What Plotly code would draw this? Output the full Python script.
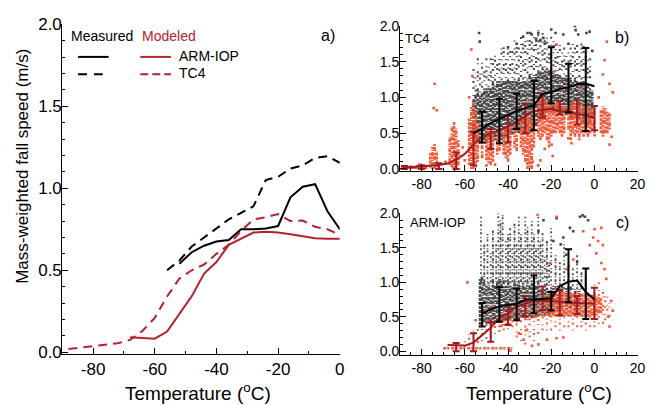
import plotly.graph_objects as go

# ---------------- Panel a: binned mean curves ----------------
T_TC4_MEAS = [-56, -52, -48, -44, -40, -36, -32, -28, -24, -20, -16, -12, -8, -4, 0]
V_TC4_MEAS = [0.50, 0.56, 0.645, 0.70, 0.755, 0.81, 0.85, 0.89, 1.05, 1.07, 1.12, 1.14, 1.185, 1.195, 1.155]
T_ARM_MEAS = [-52, -48, -44, -40, -36, -32, -28, -24, -20, -16, -12, -8, -4, 0]
V_ARM_MEAS = [0.54, 0.61, 0.65, 0.675, 0.685, 0.75, 0.75, 0.755, 0.77, 0.945, 1.01, 1.025, 0.86, 0.75]
T_ARM_MOD = [-68, -64, -60, -56, -52, -48, -44, -40, -36, -32, -28, -24, -20, -16, -12, -8, -4, 0]
V_ARM_MOD = [0.092, 0.088, 0.083, 0.126, 0.234, 0.342, 0.48, 0.55, 0.655, 0.695, 0.73, 0.735, 0.73, 0.72, 0.707, 0.695, 0.693, 0.693]
T_TC4_MOD = [-88, -84, -80, -76, -72, -68, -64, -60, -56, -52, -48, -44, -40, -36, -32, -28, -24, -20, -16, -12, -8, -4, 0]
V_TC4_MOD = [0.02, 0.028, 0.037, 0.045, 0.055, 0.075, 0.13, 0.21, 0.34, 0.45, 0.50, 0.535, 0.60, 0.655, 0.74, 0.81, 0.823, 0.843, 0.80, 0.803, 0.765, 0.75, 0.715]

# ---------------- Panel b (TC4) error bars ----------------
B_BLK_BAR_T = [-52, -44, -36, -28, -20, -12, -4]
B_BLK_BAR_LO = [0.37, 0.36, 0.56, 0.54, 0.92, 0.79, 0.53]
B_BLK_BAR_HI = [0.80, 0.98, 1.05, 1.23, 1.70, 1.47, 1.69]
B_RED_BAR_T = [-88, -80, -72, -64, -56, -48, -40, -32, -24, -16, -8, 0]
B_RED_BAR_LO = [0.0, 0.0, 0.0, 0.0, 0.05, 0.28, 0.37, 0.50, 0.72, 0.76, 0.62, 0.54]
B_RED_BAR_HI = [0.04, 0.05, 0.08, 0.23, 0.52, 0.56, 0.74, 0.91, 1.05, 0.95, 0.96, 0.88]

# ---------------- Panel c (ARM-IOP) error bars ----------------
C_BLK_BAR_T = [-52, -44, -36, -28, -20, -12, -4]
C_BLK_BAR_LO = [0.36, 0.43, 0.45, 0.55, 0.59, 0.71, 0.47]
C_BLK_BAR_HI = [0.70, 0.93, 0.91, 1.10, 0.86, 1.48, 1.20]
C_RED_BAR_T = [-64, -56, -48, -40, -32, -24, -16, -8, 0]
C_RED_BAR_LO = [0.0, 0.0, 0.14, 0.38, 0.50, 0.60, 0.52, 0.54, 0.47]
C_RED_BAR_HI = [0.12, 0.26, 0.42, 0.66, 0.80, 0.94, 0.89, 0.80, 0.92]

# ---------------- Scatter clouds, read as (T, low, high) streaks ----------------
B_GRAY_CORE = [(-56, 0.42, 0.95), (-55, 0.38, 1.05), (-54, 0.38, 1.1), (-53, 0.36, 1.0), (-52, 0.4, 1.05),
               (-51, 0.4, 1.1), (-50, 0.38, 1.1), (-49, 0.4, 1.15), (-48, 0.42, 1.1), (-47, 0.38, 1.2),
               (-46, 0.4, 1.15), (-45, 0.38, 1.2), (-44, 0.42, 1.2), (-43, 0.4, 1.25), (-42, 0.42, 1.2),
               (-41, 0.45, 1.2), (-40, 0.45, 1.25), (-39, 0.48, 1.2), (-38, 0.48, 1.2), (-37, 0.5, 1.25),
               (-36, 0.52, 1.2), (-35, 0.5, 1.25), (-34, 0.52, 1.2), (-33, 0.5, 1.25), (-32, 0.55, 1.2),
               (-31, 0.55, 1.25), (-30, 0.5, 1.3), (-29, 0.55, 1.25), (-28, 0.6, 1.3), (-27, 0.6, 1.3),
               (-26, 0.65, 1.35), (-25, 0.7, 1.35), (-24, 0.75, 1.4), (-23, 0.72, 1.35), (-22, 0.78, 1.4),
               (-21, 0.8, 1.35), (-20, 0.82, 1.4), (-19, 0.8, 1.35), (-18, 0.82, 1.3), (-17, 0.8, 1.3),
               (-16, 0.8, 1.3), (-15, 0.82, 1.25), (-14, 0.78, 1.25), (-13, 0.75, 1.3), (-12, 0.78, 1.25),
               (-11, 0.7, 1.25), (-10, 0.72, 1.2), (-9, 0.7, 1.25), (-8, 0.68, 1.2), (-7, 0.7, 1.2),
               (-6, 0.62, 1.25), (-5, 0.65, 1.2), (-4, 0.6, 1.2), (-3, 0.62, 1.15), (-2, 0.65, 1.1), (-1, 0.7, 1.1)]
B_GRAY_SPARSE = [(-56, 0.95, 1.45), (-55, 1.0, 1.35), (-54, 1.1, 1.55), (-53, 1.0, 1.4), (-52, 1.05, 1.5),
                 (-51, 1.1, 1.45), (-50, 1.1, 1.6), (-49, 1.15, 1.5), (-48, 1.1, 1.55), (-47, 1.2, 1.6),
                 (-46, 1.15, 1.65), (-45, 1.2, 1.55), (-44, 1.2, 1.6), (-43, 1.25, 1.7), (-42, 1.2, 1.7),
                 (-41, 1.2, 1.6), (-40, 1.25, 1.75), (-39, 1.2, 1.65), (-38, 1.2, 1.7), (-37, 1.25, 1.8),
                 (-36, 1.2, 1.8), (-35, 1.25, 1.75), (-34, 1.2, 1.85), (-33, 1.25, 1.8), (-32, 1.2, 1.8),
                 (-31, 1.25, 1.85), (-30, 1.3, 1.9), (-29, 1.25, 1.8), (-28, 1.3, 1.85), (-27, 1.3, 1.9),
                 (-26, 1.35, 1.95), (-25, 1.35, 1.85), (-24, 1.4, 1.9), (-23, 1.35, 1.8), (-22, 1.4, 1.85),
                 (-21, 1.35, 1.75), (-20, 1.4, 1.9), (-19, 1.35, 1.8), (-18, 1.3, 1.75), (-17, 1.3, 1.7),
                 (-16, 1.3, 1.8), (-15, 1.25, 1.65), (-14, 1.25, 1.7), (-13, 1.3, 1.6), (-12, 1.25, 1.65),
                 (-11, 1.25, 1.7), (-10, 1.2, 1.8), (-9, 1.25, 1.7), (-8, 1.2, 1.75), (-7, 1.2, 1.6),
                 (-6, 1.25, 1.85), (-5, 1.2, 1.65), (-4, 1.2, 1.7), (-3, 1.15, 1.55), (-2, 1.1, 1.6)]
B_RED_CORE = [(-89, 0.0, 0.03), (-88, 0.0, 0.04), (-87, 0.0, 0.05), (-86, 0.0, 0.04), (-85, 0.0, 0.05),
              (-84, 0.0, 0.04), (-83, 0.0, 0.03), (-82, 0.0, 0.06), (-81, 0.0, 0.08), (-80, 0.0, 0.07),
              (-79, 0.0, 0.05), (-78, 0.0, 0.04),
              (-76, 0.02, 0.22), (-75, 0.0, 0.32), (-74, 0.0, 0.35), (-73, 0.02, 0.25),
              (-67, 0.05, 0.45), (-66, 0.02, 0.6), (-65, 0.0, 0.66), (-64, 0.02, 0.58), (-63, 0.05, 0.42),
              (-58, 0.05, 0.7), (-57, 0.0, 0.88), (-56, 0.0, 0.95), (-55, 0.02, 0.82), (-54, 0.1, 0.65),
              (-52, 0.15, 0.45), (-50, 0.12, 0.5), (-49, 0.08, 0.55), (-48, 0.05, 0.5), (-47, 0.1, 0.5),
              (-45, 0.2, 0.5), (-44, 0.25, 0.55), (-42, 0.2, 0.55), (-41, 0.15, 0.6), (-40, 0.1, 0.6),
              (-39, 0.2, 0.6), (-37, 0.3, 0.65), (-36, 0.25, 0.65), (-34, 0.3, 0.7), (-33, 0.2, 0.7),
              (-32, 0.1, 0.72), (-31, 0.0, 0.75), (-30, 0.02, 0.7), (-29, 0.0, 0.75), (-28, 0.3, 0.85),
              (-26, 0.45, 0.95), (-25, 0.4, 1.0), (-24, 0.45, 1.02), (-23, 0.5, 0.98), (-22, 0.4, 0.95),
              (-21, 0.3, 0.9), (-20, 0.45, 0.95), (-19, 0.5, 0.95), (-18, 0.5, 0.92), (-17, 0.55, 0.95),
              (-16, 0.5, 0.95), (-15, 0.45, 0.9), (-14, 0.5, 0.88),
              (-12, 0.55, 0.88), (-11, 0.4, 0.92), (-10, 0.5, 0.95), (-9, 0.45, 0.92), (-8, 0.5, 0.95),
              (-7, 0.4, 0.88), (-6, 0.5, 0.92), (-5, 0.45, 0.88), (-4, 0.5, 0.9), (-3, 0.45, 0.88),
              (-2, 0.5, 0.85), (-1, 0.55, 0.85), (0, 0.5, 0.88),
              (3, 0.5, 0.82), (4, 0.45, 0.88), (5, 0.5, 0.85), (6, 0.5, 0.8), (7, 0.55, 0.78)]
B_RED_OUT = [(-74, 1.19), (-73, 0.82), (-74.4, 0.85), (-57, 1.67), (-56.5, 1.3), (-58, 1.0), (5.8, 1.78),
             (4.7, 1.52), (3.9, 1.32), (7, 1.19), (8.5, 1.07), (-18.2, 1.37), (-17.5, 1.74), (-29.7, 0.32),
             (-29, 0.14), (-28.6, 0.1), (-19.3, 0.18), (-19.8, 0.34), (-12.1, 0.43), (-10.6, 0.36),
             (0.1, 0.47), (7, 0.34), (-60, 0.12), (-61, 0.3), (-69, 0.1), (-50, 0.05), (-46, 0.06),
             (-26, 0.05), (-25, 0.12), (-23, 0.28), (-15, 1.1), (-6, 1.12), (2, 1.0), (8, 0.45)]
B_GRAY_OUT = [(-53.4, 1.9), (-53.1, 1.78), (-33, 1.85), (-31, 1.9), (-29, 1.88), (-27, 1.82), (-26, 1.9),
              (-25, 1.8), (-23, 1.75), (-9, 2.0), (-8.7, 1.94), (-2.2, 1.92), (-3.7, 1.9), (-7.5, 1.88),
              (-14.4, 1.88), (-23.6, 1.83), (-29.7, 1.9), (-20, 1.95), (-18, 1.9), (-12, 1.75), (-5, 1.7),
              (-1, 1.65), (-36, 1.75), (-40, 1.7)]

C_GRAY_CORE = [(-53, 0.38, 1.05), (-52, 0.4, 1.1), (-51, 0.42, 1.0), (-50, 0.4, 0.95), (-49, 0.4, 1.0),
               (-48, 0.42, 0.95), (-47, 0.4, 1.05), (-46, 0.42, 0.95), (-45, 0.42, 1.0), (-44, 0.45, 1.05),
               (-43, 0.44, 1.0), (-42, 0.45, 1.05), (-41, 0.45, 0.95), (-40, 0.48, 1.0), (-39, 0.46, 1.0),
               (-38, 0.48, 0.95), (-37, 0.46, 1.0), (-36, 0.48, 1.0), (-35, 0.46, 1.0), (-34, 0.5, 0.95),
               (-33, 0.5, 1.0), (-32, 0.48, 0.95), (-31, 0.5, 1.0), (-30, 0.5, 0.95), (-29, 0.48, 1.0),
               (-28, 0.5, 1.0), (-27, 0.5, 0.95), (-26, 0.5, 1.0), (-25, 0.52, 0.9), (-24, 0.55, 0.95),
               (-23, 0.52, 0.9), (-22, 0.55, 0.92), (-21, 0.52, 0.88), (-20, 0.55, 0.9),
               (-19, 0.6, 0.95), (-17, 0.6, 0.95), (-15, 0.62, 0.95), (-13, 0.6, 0.92), (-11, 0.62, 0.95),
               (-9, 0.6, 0.9), (-7, 0.6, 0.9)]
C_GRAY_TALL = [(-52.5, 1.0, 1.95), (-51, 1.0, 1.55), (-49.5, 1.0, 1.7), (-48, 1.0, 1.45), (-47, 1.0, 1.75),
               (-45.5, 1.0, 1.6), (-44.5, 1.0, 2.0), (-43.5, 1.0, 1.9), (-42.5, 1.0, 1.98), (-41, 1.0, 1.6),
               (-40, 1.0, 1.7), (-39, 1.0, 1.8), (-38, 1.0, 1.5), (-37, 1.0, 1.85), (-36, 1.0, 1.6),
               (-35, 1.0, 1.95), (-34, 1.0, 1.7), (-33, 1.0, 1.5), (-32, 1.0, 1.95), (-31, 1.0, 1.8),
               (-30, 1.0, 1.6), (-29, 1.0, 1.9), (-28, 1.0, 1.7), (-27, 1.0, 1.5), (-26, 1.0, 1.95),
               (-25, 1.0, 1.6), (-24, 1.0, 1.75), (-23, 0.95, 1.4), (-22, 0.95, 1.6), (-21, 0.95, 1.3),
               (-20, 0.9, 1.8), (-18, 0.9, 1.4), (-16, 0.9, 1.3), (-14, 0.9, 1.6), (-12, 0.9, 1.3),
               (-10, 0.9, 1.2), (-8, 0.9, 1.4), (-6, 0.9, 1.15), (-4, 0.85, 1.1)]
C_RED_FLOOR = [(-70, 0.045), (-38, 0.045)]
C_RED_RISE = [(-60, 0.06, 0.18), (-58, 0.08, 0.25), (-56, 0.1, 0.3), (-54, 0.12, 0.35), (-52, 0.15, 0.42),
              (-50, 0.18, 0.48), (-48, 0.2, 0.5), (-46, 0.25, 0.55), (-44, 0.28, 0.55), (-42, 0.3, 0.6),
              (-40, 0.32, 0.6), (-38, 0.35, 0.6), (-36, 0.2, 0.45), (-34, 0.15, 0.42), (-32, 0.1, 0.45),
              (-30, 0.2, 0.45), (-28, 0.15, 0.48), (-26, 0.25, 0.5), (-24, 0.3, 0.5), (-22, 0.3, 0.52),
              (-20, 0.3, 0.5), (-18, 0.35, 0.5), (-16, 0.3, 0.5), (-14, 0.35, 0.5), (-12, 0.35, 0.5),
              (-10, 0.3, 0.5), (-8, 0.35, 0.5), (-6, 0.35, 0.5), (-4, 0.3, 0.5), (-2, 0.35, 0.5),
              (0, 0.35, 0.5), (2, 0.4, 0.55), (4, 0.4, 0.9), (5, 0.45, 0.85), (6, 0.5, 0.8), (7, 0.5, 0.7),
              (-20, 0.85, 1.0), (-16, 0.88, 1.05), (-12, 0.86, 1.0), (-8, 0.85, 1.0), (-4, 0.85, 1.05),
              (0, 0.82, 1.0), (2, 0.8, 1.0)]
C_RED_MID = [(-44, 0.35, 0.5), (-43, 0.35, 0.52), (-42, 0.38, 0.55), (-41, 0.38, 0.55), (-40, 0.4, 0.6),
             (-39, 0.4, 0.58), (-38, 0.42, 0.6), (-36, 0.42, 0.62), (-35, 0.45, 0.62), (-34, 0.42, 0.65),
             (-32, 0.45, 0.65), (-31, 0.45, 0.68), (-30, 0.45, 0.7), (-28, 0.48, 0.7), (-27, 0.48, 0.72),
             (-26, 0.5, 0.75), (-24, 0.5, 0.78), (-23, 0.5, 0.8), (-22, 0.52, 0.82)]
C_RED_CORE = [(-21, 0.5, 0.85), (-20, 0.5, 0.85), (-19, 0.52, 0.85), (-18, 0.5, 0.88), (-17, 0.52, 0.85),
              (-16, 0.5, 0.88), (-15, 0.52, 0.85), (-14, 0.5, 0.86), (-13, 0.52, 0.85), (-12, 0.5, 0.86),
              (-11, 0.5, 0.85), (-10, 0.52, 0.85), (-9, 0.5, 0.84), (-8, 0.5, 0.85), (-7, 0.52, 0.84),
              (-6, 0.5, 0.85), (-5, 0.5, 0.84), (-4, 0.52, 0.85), (-3, 0.5, 0.84), (-2, 0.5, 0.82),
              (-1, 0.52, 0.82), (0, 0.5, 0.82), (1, 0.52, 0.8), (2, 0.55, 0.8), (3, 0.55, 0.78)]
C_RED_OUT = [(-26.3, 1.98), (-17.5, 1.95), (-5.2, 1.74), (0.1, 1.77), (3.2, 1.79), (-0.6, 1.65), (1.7, 1.6),
             (-2.2, 1.54), (3.9, 1.54), (0.9, 1.42), (3.2, 1.28), (4.7, 1.19), (5.5, 1.05), (7.8, 0.73),
             (8.5, 0.59), (7, 0.36), (6.5, 0.5), (-9.8, 1.33), (-12.9, 1.19), (-20.5, 1.28), (-32.8, 0.17),
             (-28.9, 0.08), (-25.9, 0.1), (-17.5, 0.19), (-14.4, 0.2), (-22, 0.17), (-35, 0.26),
             (-31.2, 0.31), (-58.8, 1.0), (-38.9, 0.01), (-55, 0.45), (-50, 0.6), (-47, 0.65)]
C_GRAY_OUT = [(-6.7, 1.95), (-5.5, 1.97), (-4.4, 1.95), (-2.9, 1.9), (-17.5, 1.93), (-11.3, 1.79),
              (-9.8, 1.74), (-14.4, 1.65), (-15.6, 1.55), (-25.9, 1.74), (-23.6, 1.9), (-19, 1.6),
              (-13, 1.4), (-8, 1.3)]

# ---------------- Tick labels ----------------
XT_A = [-80, -60, -40, -20, 0]
XT_BC = [-80, -60, -40, -20, 0, 20]
YT = [0.0, 0.5, 1.0, 1.5, 2.0]

# ---------------- styles ----------------
FONT = "Liberation Sans, Arial, Helvetica, sans-serif"
BLACK = "#000000"
RED_A = "#b3232e"
RED_DARK = "#a11a22"
RED_DOT = "#ef5a3a"
GRAY_DOT = "#474747"
W, H = 654, 405

DENSE = ["3px,1px", "2px,1px,4px,1px,1px,1px", "4px,1px,2px,2px"]
MEDIUM = ["2px,2px,1px,3px", "3px,2px,1px,1px", "1px,2px,2px,3px,2px,1px"]
SPARSE = ["2px,3px,1px,6px,2px,4px", "1px,5px,2px,3px,1px,7px", "2px,7px,1px,3px,2px,2px"]


def px(x):
    return x / W


def py(y):
    return 1 - y / H


fig = go.Figure()


def add_streaks(data, color, width, xa, ya, dashes, opacity=1.0):
    n = len(dashes)
    for k in range(n):
        xs, ys = [], []
        for i, (t, lo, hi) in enumerate(data):
            if i % n == k:
                xs += [t, t, None]
                ys += [lo, hi, None]
        fig.add_trace(go.Scatter(x=xs, y=ys, mode="lines", line=dict(color=color, width=width, dash=dashes[k]),
                                 opacity=opacity, xaxis=xa, yaxis=ya, hoverinfo="skip"))


def add_points(data, color, xa, ya, size=2.6):
    fig.add_trace(go.Scatter(x=[p[0] for p in data], y=[p[1] for p in data], mode="markers",
                             marker=dict(symbol="square", size=size, color=color, line=dict(width=0)),
                             xaxis=xa, yaxis=ya, hoverinfo="skip"))


def add_line(t, v, color, xa, ya, dash="solid", width=2):
    fig.add_trace(go.Scatter(x=t, y=v, mode="lines", line=dict(color=color, width=width, dash=dash),
                             xaxis=xa, yaxis=ya, hoverinfo="skip"))


def add_bars(t, lo, hi, color, xa, ya):
    mid = [(a + b) / 2 for a, b in zip(lo, hi)]
    fig.add_trace(go.Scatter(
        x=t, y=mid, mode="markers", marker=dict(size=1, opacity=0, color=color),
        error_y=dict(type="data", symmetric=False, array=[h - m for h, m in zip(hi, mid)],
                     arrayminus=[m - l for m, l in zip(mid, lo)], color=color, thickness=2, width=3.5),
        xaxis=xa, yaxis=ya, hoverinfo="skip"))


# ---- panel a ----
add_line(T_TC4_MEAS, V_TC4_MEAS, BLACK, "x", "y", dash="9px,6px")
add_line(T_ARM_MEAS, V_ARM_MEAS, BLACK, "x", "y")
add_line(T_TC4_MOD, V_TC4_MOD, RED_A, "x", "y", dash="9px,6px")
add_line(T_ARM_MOD, V_ARM_MOD, RED_A, "x", "y")

# ---- panel b ----
add_streaks(B_GRAY_CORE, GRAY_DOT, 2.6, "x2", "y2", DENSE)
add_streaks(B_GRAY_SPARSE, GRAY_DOT, 2.0, "x2", "y2", SPARSE)
add_points(B_GRAY_OUT, GRAY_DOT, "x2", "y2")
add_streaks(B_RED_CORE, RED_DOT, 2.6, "x2", "y2", DENSE)
add_points(B_RED_OUT, RED_DOT, "x2", "y2")
add_line(T_TC4_MOD, V_TC4_MOD, RED_DARK, "x2", "y2")
add_bars(B_RED_BAR_T, B_RED_BAR_LO, B_RED_BAR_HI, RED_DARK, "x2", "y2")
add_line(T_TC4_MEAS, V_TC4_MEAS, BLACK, "x2", "y2")
add_bars(B_BLK_BAR_T, B_BLK_BAR_LO, B_BLK_BAR_HI, BLACK, "x2", "y2")

# ---- panel c ----
add_streaks(C_GRAY_CORE, GRAY_DOT, 2.4, "x3", "y3", DENSE)
add_streaks(C_GRAY_TALL, GRAY_DOT, 1.8, "x3", "y3", MEDIUM)
add_points(C_GRAY_OUT, GRAY_DOT, "x3", "y3")
add_streaks(C_RED_RISE, RED_DOT, 2.0, "x3", "y3", SPARSE)
add_streaks(C_RED_MID, RED_DOT, 2.2, "x3", "y3", MEDIUM)
add_streaks(C_RED_CORE, RED_DOT, 2.6, "x3", "y3", DENSE)
fig.add_trace(go.Scatter(x=[p[0] for p in C_RED_FLOOR], y=[p[1] for p in C_RED_FLOOR], mode="lines",
                         line=dict(color=RED_DOT, width=2.5, dash="3px,1px,2px,2px"), xaxis="x3", yaxis="y3",
                         hoverinfo="skip"))
add_points(C_RED_OUT, RED_DOT, "x3", "y3")
add_line(T_ARM_MOD, V_ARM_MOD, RED_DARK, "x3", "y3")
add_bars(C_RED_BAR_T, C_RED_BAR_LO, C_RED_BAR_HI, RED_DARK, "x3", "y3")
add_line(T_ARM_MEAS, V_ARM_MEAS, BLACK, "x3", "y3")
add_bars(C_BLK_BAR_T, C_BLK_BAR_LO, C_BLK_BAR_HI, BLACK, "x3", "y3")


def xaxis_cfg(domain, rng, tv, size, minor_dtick, anchor):
    return dict(domain=domain, range=rng, tickvals=tv, ticktext=[str(v) for v in tv], anchor=anchor,
                ticks="inside", ticklen=6, tickwidth=1, tickcolor=BLACK, showline=True, linecolor=BLACK,
                linewidth=1, showgrid=False, zeroline=False, tickfont=dict(family=FONT, size=size, color=BLACK),
                minor=dict(ticks="inside", ticklen=3, dtick=minor_dtick, tick0=0, tickcolor=BLACK, showgrid=False))


def yaxis_cfg(domain, rng, size, anchor, standoff):
    return dict(domain=domain, range=rng, tickvals=YT, ticktext=["%.1f" % v for v in YT], anchor=anchor,
                ticks="inside", ticklen=6, tickwidth=1, tickcolor=BLACK, showline=True, linecolor=BLACK,
                linewidth=1, showgrid=False, zeroline=False, tickfont=dict(family=FONT, size=size, color=BLACK),
                ticklabelstandoff=standoff,
                minor=dict(ticks="inside", ticklen=3, dtick=0.1, tick0=0, tickcolor=BLACK, showgrid=False))


ann = [
    dict(text="Mass-weighted fall speed (m/s)", x=px(22), y=py(164), textangle=-90, size=17),
    dict(text="Temperature (<sup>o</sup>C)", x=px(200), y=py(414), size=19, yanchor="bottom"),
    dict(text="Temperature (<sup>o</sup>C)", x=px(546), y=py(414), size=19, yanchor="bottom"),
    dict(text="Measured", x=px(70), y=py(28), size=14, xanchor="left"),
    dict(text="Modeled", x=px(142), y=py(28), size=14, color=RED_A, xanchor="left"),
    dict(text="ARM-IOP", x=px(179), y=py(49), size=14, xanchor="left"),
    dict(text="TC4", x=px(179), y=py(67), size=14, xanchor="left"),
    dict(text="a)", x=px(341), y=py(28), size=16, xanchor="right"),
    dict(text="TC4", x=px(408), y=py(31), size=13, xanchor="left"),
    dict(text="b)", x=px(639), y=py(30), size=16, xanchor="right"),
    dict(text="ARM-IOP", x=px(413), y=py(223), size=13, xanchor="left"),
    dict(text="c)", x=px(639), y=py(223), size=16, xanchor="right"),
]
annotations = []
for a in ann:
    annotations.append(dict(text=a["text"], x=a["x"], y=a["y"], xref="paper", yref="paper", showarrow=False,
                            textangle=a.get("textangle", 0), xanchor=a.get("xanchor", "center"),
                            yanchor=a.get("yanchor", "middle"),
                            font=dict(family=FONT, size=a["size"], color=a.get("color", BLACK))))

shapes = [
    dict(type="line", xref="paper", yref="paper", x0=px(79), x1=px(110), y0=py(50), y1=py(50),
         line=dict(color=BLACK, width=2)),
    dict(type="line", xref="paper", yref="paper", x0=px(79), x1=px(104), y0=py(68), y1=py(68),
         line=dict(color=BLACK, width=2, dash="9px,7px")),
    dict(type="line", xref="paper", yref="paper", x0=px(142), x1=px(173), y0=py(50), y1=py(50),
         line=dict(color=RED_A, width=2)),
    dict(type="line", xref="paper", yref="paper", x0=px(142), x1=px(173), y0=py(68), y1=py(68),
         line=dict(color=RED_A, width=2, dash="8px,4px")),
]

fig.update_layout(
    width=W, height=H, margin=dict(l=0, r=0, t=0, b=0), paper_bgcolor="white", plot_bgcolor="white",
    showlegend=False, font=dict(family=FONT, color=BLACK),
    xaxis=xaxis_cfg([px(63), px(344)], [-90, 0], XT_A, 17, 10, "y"),
    yaxis=yaxis_cfg([py(360), py(16)], [-0.01, 2.0], 17, "x", -4),
    xaxis2=xaxis_cfg([px(405), px(645.5)], [-90, 20], XT_BC, 14, 5, "y2"),
    yaxis2=yaxis_cfg([py(169.2), py(17.6)], [-0.03, 2.0], 14, "x2", -3),
    xaxis3=xaxis_cfg([px(405), px(645.5)], [-90, 20], XT_BC, 14, 5, "y3"),
    yaxis3=yaxis_cfg([py(360.9), py(213.3)], [-0.05, 2.0], 14, "x3", -3),
    annotations=annotations, shapes=shapes,
)

fig.write_html("out.html")
